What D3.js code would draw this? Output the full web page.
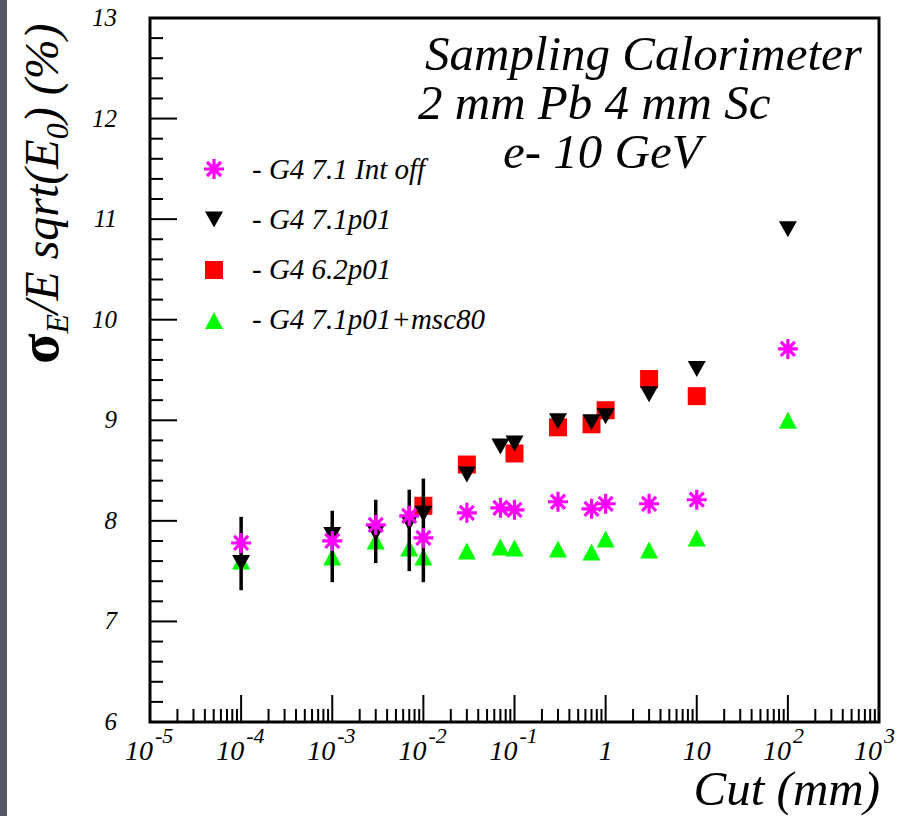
<!doctype html>
<html>
<head>
<meta charset="utf-8">
<script src="https://d3js.org/d3.v7.min.js"></script>
<style>
  body { margin: 0; background: #fff; }
</style>
</head>
<body>
<svg width="921" height="816"></svg>
<script>
// cut values (mm) shared by the full series
const cuts = [1e-4, 1e-3, 3e-3, 7e-3, 1e-2, 0.03, 0.07, 0.1, 0.3, 0.7, 1, 3, 10, 100];
// G4 7.1 Int off
const intOff = [7.78, 7.80, 7.96, 8.05, 7.83, 8.08, 8.13, 8.11, 8.19, 8.12, 8.17, 8.17, 8.21, 9.71];
// G4 7.1p01
const p01 = [7.58, 7.86, 7.88, 7.98, 8.07, 8.46, 8.74, 8.77, 8.99, 8.98, 9.04, 9.26, 9.51, 10.90];
// error bars on G4 7.1p01 (small cuts only)
const errCuts = [1e-4, 1e-3, 3e-3, 7e-3, 1e-2];
const errLow = [7.31, 7.39, 7.58, 7.50, 7.39];
const errHigh = [8.04, 8.10, 8.21, 8.31, 8.42];
// G4 6.2p01
const v62Cuts = [1e-2, 0.03, 0.1, 0.3, 0.7, 1, 3, 10];
const v62 = [8.15, 8.56, 8.67, 8.93, 8.96, 9.10, 9.41, 9.24];
// G4 7.1p01+msc80
const msc80 = [7.60, 7.64, 7.80, 7.73, 7.64, 7.70, 7.74, 7.73, 7.72, 7.69, 7.82, 7.71, 7.83, 9.00];

const legendNames = ["- G4 7.1 Int off", "- G4 7.1p01", "- G4 6.2p01", "- G4 7.1p01+msc80"];
const titleLines = ["Sampling Calorimeter", "2 mm Pb 4 mm Sc", "e- 10 GeV"];

// tick labels
const xTickVals = [1e-5, 1e-4, 1e-3, 1e-2, 1e-1, 1, 10, 100, 1000];
const xTickMain = ["10", "10", "10", "10", "10", "1", "10", "10", "10"];
const xTickSup = ["-5", "-4", "-3", "-2", "-1", "", "", "2", "3"];
const yTickVals = [6, 7, 8, 9, 10, 11, 12, 13];

var FONT = "Liberation Serif";
var svg = d3.select("svg");
var L = 150, R = 879, T = 18, B = 722;
var x = d3.scaleLog().domain([1e-5, 1e3]).range([L, R]);
var y = d3.scaleLinear().domain([6, 13]).range([B, T]);

function label(g, px, py, size, str) {
    return g.append("text").attr("x", px).attr("y", py)
      .attr("font-family", FONT).attr("font-style", "italic")
      .attr("font-size", size).attr("fill", "#000").text(str);
}

// dark strip on the left edge
svg.append("rect").attr("x", 0).attr("y", 0).attr("width", 7).attr("height", 816).attr("fill", "#555966");

// marker shapes
function triPath(w, h, down) {
    var s = down ? -1 : 1;
    return "M0," + (-s * h / 2) + "L" + (w / 2) + "," + (s * h / 2) + "L" + (-w / 2) + "," + (s * h / 2) + "Z";
}
var starPath = "M-10,0L10,0M0,-10L0,10M-7,-7L7,7M-7,7L7,-7";

function drawMarker(g, kind, px, py) {
    if (kind == "star") {
        g.append("path").attr("d", starPath).attr("transform", "translate(" + px + "," + py + ")")
          .attr("stroke", "#ff00ff").attr("stroke-width", 3.2).attr("fill", "none");
    } else if (kind == "down") {
        g.append("path").attr("d", triPath(18, 16, true)).attr("transform", "translate(" + px + "," + py + ")")
          .attr("fill", "#000");
    } else if (kind == "square") {
        g.append("rect").attr("x", px - 9).attr("y", py - 9).attr("width", 18).attr("height", 18)
          .attr("fill", "#ff0000");
    } else if (kind == "up") {
        g.append("path").attr("d", triPath(18, 17, false)).attr("transform", "translate(" + px + "," + py + ")")
          .attr("fill", "#00ff00");
    }
}

// axes ticks
var ticks = svg.append("g").attr("stroke", "#000").attr("stroke-width", 2);
d3.range(6, 13.001, 0.2).forEach(function(v) {
    var major = Math.abs(v - Math.round(v)) < 1e-6;
    ticks.append("line").attr("x1", L).attr("x2", L + (major ? 27 : 13))
      .attr("y1", y(v)).attr("y2", y(v));
});
x.ticks(40).forEach(function(v) {
    var lg = Math.log10(v);
    var major = Math.abs(lg - Math.round(lg)) < 1e-6;
    ticks.append("line").attr("y1", B).attr("y2", B - (major ? 27 : 13))
      .attr("x1", x(v)).attr("x2", x(v));
});

// frame
svg.append("rect").attr("x", L).attr("y", T).attr("width", R - L).attr("height", B - T)
  .attr("fill", "none").attr("stroke", "#000").attr("stroke-width", 3);

// y tick labels
yTickVals.forEach(function(d) {
    label(svg, 117, y(d) + 8, 25, d).attr("text-anchor", "end");
});

// x tick labels (base and exponent as separate texts)
xTickVals.forEach(function(v, i) {
    if (xTickSup[i]) {
        label(svg, x(v) + 3, 760, 28, xTickMain[i]).attr("text-anchor", "end");
        label(svg, x(v) + 5, 743, 22, xTickSup[i]);
    } else {
        label(svg, x(v), 760, 28, xTickMain[i]).attr("text-anchor", "middle");
    }
});

// axis titles
label(svg, 880, 805, 49, "Cut (mm)").attr("text-anchor", "end");

var yl = label(svg, 0, 0, 48, null).attr("transform", "translate(58,364) rotate(-90)");
yl.append("tspan").attr("font-style", "normal").attr("font-weight", "bold").attr("font-size", 56).text("σ");
yl.append("tspan").attr("font-size", 32).attr("dy", 10).text("E");
yl.append("tspan").attr("dy", -10).text("/E sqrt(E");
yl.append("tspan").attr("font-size", 32).attr("dy", 10).text("0");
yl.append("tspan").attr("dy", -10).text(") (%)");

// title block
var titleX = [425, 418, 503];
titleLines.forEach(function(s, i) {
    label(svg, titleX[i], 70 + i * 49, 49, s);
});

// data points, drawn green, red, black, magenta
var pts = svg.append("g");
cuts.forEach(function(c, i) { drawMarker(pts, "up", x(c), y(msc80[i])); });
v62Cuts.forEach(function(c, i) { drawMarker(pts, "square", x(c), y(v62[i])); });
errCuts.forEach(function(c, i) {
    pts.append("line").attr("x1", x(c)).attr("x2", x(c))
      .attr("y1", y(errLow[i])).attr("y2", y(errHigh[i]))
      .attr("stroke", "#000").attr("stroke-width", 3.5);
});
cuts.forEach(function(c, i) { drawMarker(pts, "down", x(c), y(p01[i])); });
cuts.forEach(function(c, i) { drawMarker(pts, "star", x(c), y(intOff[i])); });

// legend
var kinds = ["star", "down", "square", "up"];
var leg = svg.append("g");
kinds.forEach(function(k, i) {
    drawMarker(leg, k, 214, 169 + i * 50.5);
    label(leg, 252, 179 + i * 50, 29, legendNames[i]);
});
</script>
</body>
</html>
